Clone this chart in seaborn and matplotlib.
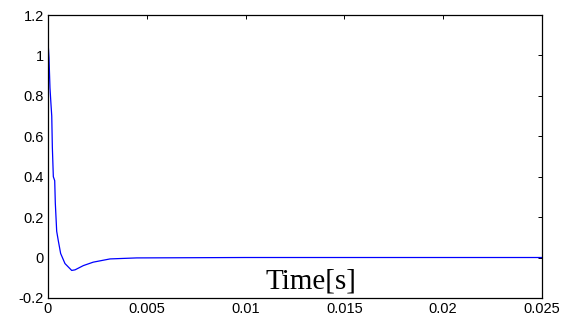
"""
Step response vs. time (MATLAB-style figure)
"""

import numpy as np
import pandas as pd
import matplotlib
matplotlib.use("Agg")
import matplotlib.pyplot as plt
import seaborn as sns

# Data
time_s = [0.0, 0.00005, 0.0001, 0.00015, 0.00019, 0.00022, 0.00027, 0.00034,
          0.00037, 0.00044, 0.00052, 0.00064, 0.00086, 0.0012, 0.00137,
          0.00179, 0.00229, 0.00314, 0.00449, 0.01, 0.025]
response = [1.07, 0.99, 0.84, 0.76, 0.70, 0.546, 0.40, 0.38,
            0.27, 0.13, 0.084, 0.02, -0.03, -0.064, -0.061,
            -0.04, -0.023, -0.007, -0.002, 0.0, 0.0]

x_ticks = [0, 0.005, 0.01, 0.015, 0.02, 0.025]
x_tick_labels = ["0", "0.005", "0.01", "0.015", "0.02", "0.025"]
y_ticks = [-0.2, 0, 0.2, 0.4, 0.6, 0.8, 1, 1.2]
y_tick_labels = ["-0.2", "0", "0.2", "0.4", "0.6", "0.8", "1", "1.2"]

df = pd.DataFrame({"t": time_s, "y": response})

sns.set_style("white")
plt.rcParams['font.family'] = ['Liberation Sans', 'DejaVu Sans']

fig = plt.figure(figsize=(5.68, 3.2), dpi=100)
ax = fig.add_axes([0.0845, 0.069, 0.8695, 0.884])

sns.lineplot(data=df, x="t", y="y", ax=ax, color="blue", linewidth=0.9)

ax.set_xlim(0, 0.025)
ax.set_ylim(-0.2, 1.2)
ax.set_xticks(x_ticks)
ax.set_xticklabels(x_tick_labels)
ax.set_yticks(y_ticks)
ax.set_yticklabels(y_tick_labels)
ax.set_xlabel("")
ax.set_ylabel("")

ax.tick_params(direction='in', length=3, width=0.7, top=True, right=True,
               labelsize=10.5, colors='black', pad=3)
for s in ax.spines.values():
    s.set_color('black')
    s.set_linewidth(0.9)

ax.text(0.0133, -0.118, "Time[s]", ha='center', va='center', color='black',
        fontsize=21, family=['Liberation Serif', 'DejaVu Serif'])

plt.savefig("out.png", dpi=100)
plt.close()
